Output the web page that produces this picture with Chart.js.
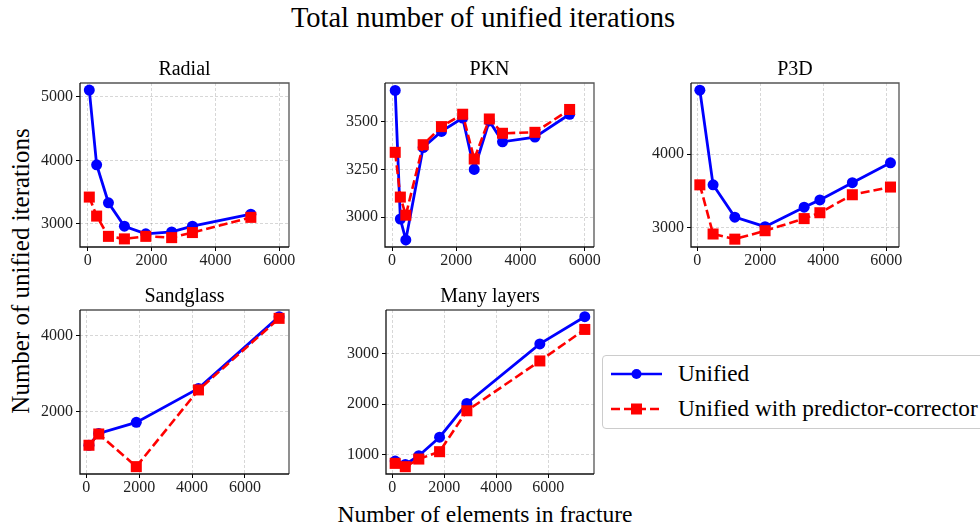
<!DOCTYPE html>
<html>
<head>
<meta charset="utf-8">
<script src="https://cdn.jsdelivr.net/npm/chart.js@4/dist/chart.umd.min.js"></script>
<style>
  html, body { margin: 0; padding: 0; background: #fff; }
  #fig { position: relative; width: 980px; height: 531px; overflow: hidden;
         font-family: 'Liberation Serif', 'DejaVu Serif', serif; color: #000; }
  .panel { position: absolute; }
  .txt { position: absolute; white-space: nowrap; line-height: 1; }
  #suptitle { left: 483px; top: 18px; font-size: 28.5px; transform: translate(-50%, -50%); }
  #ylabel { left: 20px; top: 271px; font-size: 25px; transform: translate(-50%, -50%) rotate(-90deg); }
  #xlabel { left: 485px; top: 515px; font-size: 23.5px; transform: translate(-50%, -50%); }
  #legend { position: absolute; left: 602px; top: 355px; width: 420px; height: 72px;
            border: 1px solid #cccccc; border-radius: 4px; background: #fff; }
  #legend svg { position: absolute; left: 0; top: 0; }
  .legtxt { position: absolute; left: 75px; font-size: 23.3px; white-space: nowrap; line-height: 1;
            transform: translateY(-50%); }
</style>
</head>
<body>
<div id="fig">
  <div class="txt" id="suptitle">Total number of unified iterations</div>
  <div class="txt" id="ylabel">Number of unified iterations</div>
  <div class="txt" id="xlabel">Number of elements in fracture</div>

  <canvas class="panel" id="radial"></canvas>
  <canvas class="panel" id="pkn"></canvas>
  <canvas class="panel" id="p3d"></canvas>
  <canvas class="panel" id="sandglass"></canvas>
  <canvas class="panel" id="many"></canvas>

  <div id="legend">
    <svg width="80" height="72">
      <line x1="8" y1="18" x2="59" y2="18" stroke="#0000ff" stroke-width="2.5"/>
      <circle cx="33.5" cy="18" r="5" fill="#0000ff"/>
      <line x1="8" y1="53" x2="59" y2="53" stroke="#ff0000" stroke-width="2.5" stroke-dasharray="9 4"/>
      <rect x="28" y="47.5" width="11" height="11" fill="#ff0000"/>
    </svg>
    <div class="legtxt" style="top:18px">Unified</div>
    <div class="legtxt" style="top:53px">Unified with predictor-corrector</div>
  </div>
</div>

<script>
// ---- Radial ----
const radialElements  = [50, 280, 650, 1150, 1820, 2630, 3280, 5110];
const radialUnified   = [5110, 3930, 3330, 2960, 2840, 2870, 2960, 3150];
const radialPredCorr  = [3420, 3120, 2800, 2760, 2800, 2780, 2860, 3100];

// ---- PKN ----
const pknElements  = [100, 260, 430, 970, 1540, 2200, 2560, 3030, 3440, 4450, 5530];
const pknUnified   = [3665, 2990, 2880, 3365, 3450, 3520, 3250, 3505, 3395, 3420, 3540];
const pknPredCorr  = [3340, 3105, 3010, 3380, 3475, 3540, 3305, 3515, 3440, 3445, 3565];

// ---- P3D ----
const p3dElements  = [80, 500, 1190, 2150, 3390, 3890, 4920, 6130];
const p3dUnified   = [4870, 3580, 3140, 3010, 3275, 3375, 3610, 3880];
const p3dPredCorr  = [3580, 2910, 2840, 2955, 3120, 3200, 3445, 3550];

// ---- Sandglass ----
const sandElements = [100, 470, 1890, 4240, 7290];
const sandUnified  = [1120, 1430, 1720, 2610, 4490];
const sandPredCorr = [1120, 1415, 560, 2570, 4445];

// ---- Many layers ----
const manyElements = [110, 500, 1020, 1820, 2870, 5680, 7410];
const manyUnified  = [880, 815, 985, 1350, 2015, 3185, 3720];
const manyPredCorr = [835, 770, 920, 1065, 1870, 2850, 3470];

// ---- tick labels ----
const xTicks6000    = [0, 2000, 4000, 6000];
const radialYTicks  = [3000, 4000, 5000];
const pknYTicks     = [3000, 3250, 3500];
const p3dYTicks     = [3000, 4000];
const sandYTicks    = [2000, 4000];
const manyYTicks    = [1000, 2000, 3000];

const FONT = "'Liberation Serif', 'DejaVu Serif', serif";
const Y_AXIS_W = 60, TITLE_H = 30, X_AXIS_H = 30, RIGHT_PAD = 30;

// Frame around each plotting area (matplotlib-style spines)
const framePlugin = {
  id: 'frame',
  afterDraw(chart) {
    const { ctx, chartArea: a } = chart;
    ctx.save();
    ctx.lineWidth = 1.3;
    ctx.strokeStyle = '#555555';
    ctx.beginPath();
    ctx.moveTo(a.left, a.top); ctx.lineTo(a.right, a.top); ctx.lineTo(a.right, a.bottom);
    ctx.stroke();
    ctx.strokeStyle = '#111111';
    ctx.beginPath();
    ctx.moveTo(a.left, a.top); ctx.lineTo(a.left, a.bottom); ctx.lineTo(a.right, a.bottom);
    ctx.stroke();
    ctx.restore();
  }
};

function pts(xs, ys) { return xs.map((x, i) => ({ x: x, y: ys[i] })); }

function makePanel(id, area, title, xs, unified, predCorr, xLim, yLim, xTicks, yTicks) {
  const cv = document.getElementById(id);
  const w = area.r - area.l + Y_AXIS_W + RIGHT_PAD;
  const h = area.b - area.t + TITLE_H + X_AXIS_H;
  cv.width = w; cv.height = h;
  cv.style.left = (area.l - Y_AXIS_W) + 'px';
  cv.style.top = (area.t - TITLE_H) + 'px';
  cv.style.width = w + 'px'; cv.style.height = h + 'px';

  const grid = {
    color: 'rgba(0,0,0,0.2)', lineWidth: 0.8,
    drawTicks: true, tickLength: 4, tickColor: '#000', tickWidth: 1, tickBorderDash: []
  };
  const border = { display: false, dash: [3, 2] };

  new Chart(cv, {
    type: 'line',
    data: {
      datasets: [
        { label: 'Unified', data: pts(xs, unified), order: 2,
          borderColor: '#0000ff', backgroundColor: '#0000ff', borderWidth: 2.8,
          pointStyle: 'circle', pointRadius: 5.5, pointBorderWidth: 0,
          pointBackgroundColor: '#0000ff', tension: 0, clip: false },
        { label: 'Unified with predictor-corrector', data: pts(xs, predCorr), order: 1,
          borderColor: '#ff0000', backgroundColor: '#ff0000', borderWidth: 2.6, borderDash: [9, 4],
          pointStyle: 'rect', pointRadius: 7.8, pointBorderWidth: 0,
          pointBackgroundColor: '#ff0000', tension: 0, clip: false }
      ]
    },
    options: {
      responsive: false, animation: false, devicePixelRatio: 1,
      layout: { padding: { left: 0, right: RIGHT_PAD, top: 0, bottom: 0 } },
      plugins: {
        legend: { display: false }, tooltip: { enabled: false },
        title: { display: true, text: title, fullSize: false, color: '#000',
                 font: { family: FONT, size: 20, weight: 'normal', lineHeight: 1.2 },
                 padding: { top: 5, bottom: 1 } }
      },
      scales: {
        x: {
          type: 'linear', min: xLim[0], max: xLim[1],
          afterBuildTicks: s => { s.ticks = xTicks.map(v => ({ value: v })); },
          afterFit: s => { s.height = X_AXIS_H; },
          ticks: { color: '#222', font: { family: FONT, size: 16 }, padding: 0,
                   maxRotation: 0, autoSkip: false, callback: v => String(v) },
          grid: grid, border: border
        },
        y: {
          type: 'linear', min: yLim[0], max: yLim[1],
          afterBuildTicks: s => { s.ticks = yTicks.map(v => ({ value: v })); },
          afterFit: s => { s.width = Y_AXIS_W; },
          ticks: { color: '#222', font: { family: FONT, size: 16 }, padding: 3,
                   autoSkip: false, callback: v => String(v) },
          grid: grid, border: border
        }
      }
    },
    plugins: [framePlugin]
  });
}

makePanel('radial',    { l: 80,  t: 83,  r: 289, b: 247 }, 'Radial',
          radialElements, radialUnified, radialPredCorr, [-241, 6305], [2632, 5221], xTicks6000, radialYTicks);
makePanel('pkn',       { l: 385, t: 83,  r: 594, b: 247 }, 'PKN',
          pknElements, pknUnified, pknPredCorr, [-218, 6289], [2843, 3704], xTicks6000, pknYTicks);
makePanel('p3d',       { l: 691, t: 83,  r: 899, b: 247 }, 'P3D',
          p3dElements, p3dUnified, p3dPredCorr, [-201, 6401], [2733, 4968], xTicks6000, p3dYTicks);
makePanel('sandglass', { l: 80,  t: 310, r: 289, b: 474 }, 'Sandglass',
          sandElements, sandUnified, sandPredCorr, [-239, 7664], [367, 4664], xTicks6000, sandYTicks);
makePanel('many',      { l: 386, t: 310, r: 594, b: 474 }, 'Many layers',
          manyElements, manyUnified, manyPredCorr, [-243, 7765], [626, 3852], xTicks6000, manyYTicks);
</script>
</body>
</html>
